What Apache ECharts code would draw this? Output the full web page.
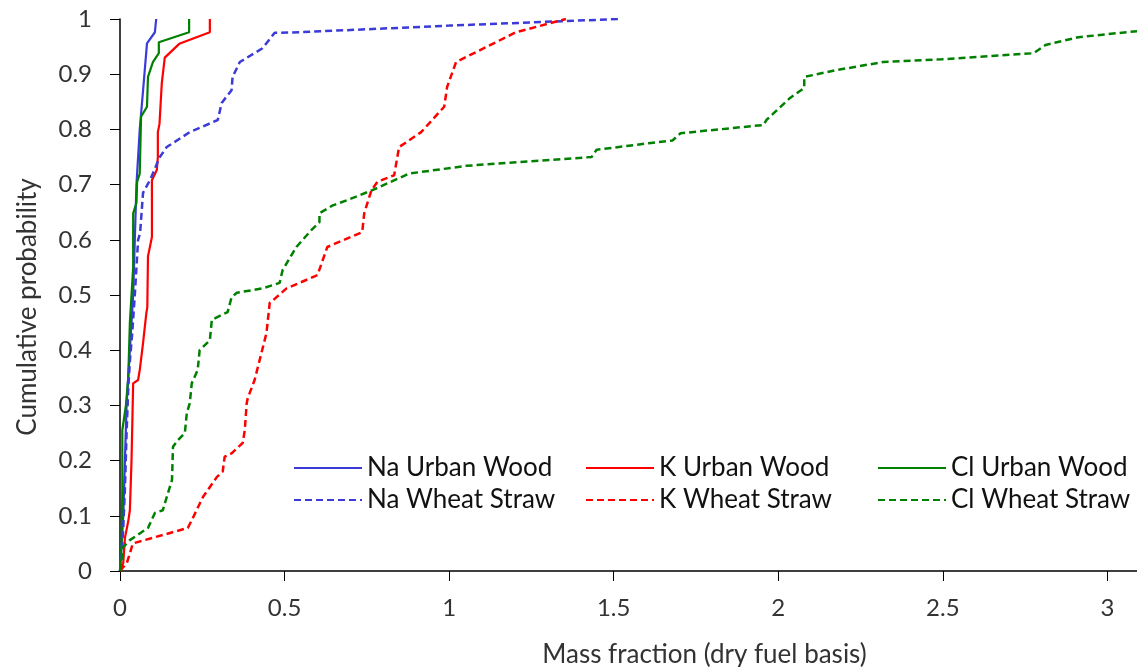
<!DOCTYPE html>
<html>
<head>
<meta charset="utf-8">
<script src="https://cdn.jsdelivr.net/npm/echarts@6/dist/echarts.min.js"></script>
<style>
  html, body { margin: 0; padding: 0; background: #fff; }
  #chart { width: 1137px; height: 667px; }
</style>
</head>
<body>
<div id="chart"></div>
<script>
// cumulative curves, [mass fraction, probability]
const naUrbanWood = [[0,0],[0.005,0.05],[0.01,0.1],[0.015,0.2],[0.02,0.3],[0.03,0.4],[0.04,0.5],[0.045,0.6],[0.05,0.7],[0.06,0.8],[0.07,0.87],[0.082,0.956],[0.106,0.976],[0.11,1.0]];
const kUrbanWood = [[0,0],[0.01,0.015],[0.015,0.06],[0.025,0.09],[0.03,0.11],[0.035,0.2],[0.04,0.34],[0.055,0.346],[0.06,0.364],[0.07,0.413],[0.08,0.467],[0.083,0.478],[0.085,0.57],[0.097,0.605],[0.097,0.708],[0.112,0.727],[0.115,0.75],[0.115,0.795],[0.12,0.81],[0.127,0.884],[0.136,0.93],[0.18,0.955],[0.273,0.976],[0.273,1.0]];
const clUrbanWood = [[0,0],[0.005,0.05],[0.007,0.15],[0.007,0.255],[0.018,0.3],[0.025,0.35],[0.03,0.45],[0.04,0.55],[0.04,0.648],[0.05,0.667],[0.052,0.705],[0.06,0.72],[0.064,0.823],[0.082,0.841],[0.085,0.895],[0.1,0.922],[0.118,0.938],[0.118,0.958],[0.21,0.976],[0.21,1.0]];
const naWheatStraw = [[0,0],[0.005,0.03],[0.01,0.08],[0.015,0.15],[0.02,0.25],[0.025,0.33],[0.03,0.38],[0.037,0.43],[0.045,0.5],[0.055,0.6],[0.061,0.612],[0.07,0.685],[0.091,0.708],[0.121,0.75],[0.142,0.768],[0.212,0.795],[0.297,0.817],[0.309,0.848],[0.339,0.871],[0.342,0.895],[0.364,0.922],[0.433,0.947],[0.47,0.975],[0.545,0.976],[1.0,0.988],[1.342,0.996],[1.52,1.0]];
const kWheatStraw = [[0,0],[0.021,0.015],[0.03,0.032],[0.039,0.05],[0.206,0.078],[0.218,0.092],[0.252,0.134],[0.294,0.17],[0.312,0.18],[0.318,0.207],[0.339,0.213],[0.373,0.232],[0.379,0.255],[0.385,0.304],[0.388,0.313],[0.409,0.346],[0.445,0.431],[0.455,0.486],[0.464,0.49],[0.506,0.512],[0.6,0.536],[0.63,0.587],[0.736,0.614],[0.742,0.648],[0.764,0.69],[0.782,0.705],[0.833,0.717],[0.848,0.768],[0.915,0.795],[0.985,0.841],[0.994,0.877],[1.021,0.922],[1.112,0.949],[1.203,0.976],[1.355,1.0]];
const clWheatStraw = [[0,0],[0.003,0.014],[0.009,0.043],[0.03,0.056],[0.085,0.078],[0.106,0.105],[0.13,0.11],[0.142,0.134],[0.158,0.165],[0.161,0.225],[0.176,0.237],[0.197,0.25],[0.203,0.286],[0.212,0.304],[0.218,0.34],[0.236,0.364],[0.242,0.4],[0.273,0.418],[0.279,0.455],[0.327,0.469],[0.339,0.496],[0.355,0.504],[0.433,0.512],[0.485,0.522],[0.494,0.545],[0.536,0.587],[0.582,0.618],[0.606,0.632],[0.606,0.648],[0.645,0.662],[0.691,0.672],[0.767,0.69],[0.879,0.72],[1.052,0.734],[1.433,0.75],[1.448,0.763],[1.606,0.775],[1.679,0.78],[1.703,0.793],[1.955,0.808],[1.964,0.817],[2.036,0.857],[2.079,0.875],[2.079,0.895],[2.173,0.907],[2.318,0.922],[2.497,0.927],[2.776,0.938],[2.812,0.953],[2.912,0.967],[3.09,0.978]];

const FONT = 'Lato, "Open Sans", sans-serif';
const BLUE = '#3b3bd8', RED = '#ff0000', GREEN = '#008000';

const chart = echarts.init(document.getElementById('chart'));

function line(name, data, color, dashed) {
  return {
    name: name,
    type: 'line',
    data: data,
    showSymbol: false,
    symbol: 'none',
    animation: false,
    lineStyle: { color: color, width: dashed ? 2.5 : 2.2, type: dashed ? [7, 4] : 'solid' },
    itemStyle: { color: color }
  };
}

const legendBase = {
  orient: 'vertical',
  top: 450,
  itemWidth: 68,
  itemHeight: 14,
  itemGap: 6,
  itemStyle: { opacity: 0 },
  textStyle: { fontFamily: FONT, fontSize: 26, color: '#111' }
};

chart.setOption({
  backgroundColor: '#fff',
  grid: { left: 120, top: 19, right: 0, bottom: 96, outerBoundsMode: 'none', containLabel: false },
  legend: [
    Object.assign({ left: 288, data: ['Na Urban Wood', 'Na Wheat Straw'] }, legendBase),
    Object.assign({ left: 580, data: ['K Urban Wood', 'K Wheat Straw'] }, legendBase),
    Object.assign({ left: 872, data: ['Cl Urban Wood', 'Cl Wheat Straw'] }, legendBase)
  ],
  xAxis: {
    type: 'value',
    min: 0,
    max: 3.09,
    interval: 0.5,
    name: 'Mass fraction (dry fuel basis)',
    nameLocation: 'middle',
    nameGap: 71,
    nameTextStyle: { fontFamily: FONT, fontSize: 26, color: '#333', padding: [0, 0, 0, 152] },
    axisLine: { lineStyle: { color: '#000', width: 1.5 } },
    axisTick: { show: true, inside: false, length: 10, lineStyle: { color: '#000' } },
    axisLabel: { showMaxLabel: false, margin: 25, fontFamily: FONT, fontSize: 24, color: '#333' },
    splitLine: { show: false }
  },
  yAxis: {
    type: 'value',
    min: 0,
    max: 1,
    interval: 0.1,
    name: 'Cumulative probability',
    nameLocation: 'middle',
    nameGap: 79,
    nameTextStyle: { fontFamily: FONT, fontSize: 26, color: '#333', padding: [0, 24, 0, 0] },
    axisLine: { show: true, lineStyle: { color: '#000', width: 1.5 } },
    axisTick: { show: true, inside: false, length: 10, lineStyle: { color: '#000' } },
    axisLabel: { margin: 28, fontFamily: FONT, fontSize: 24, color: '#333' },
    splitLine: { show: false }
  },
  series: [
    line('Na Urban Wood', naUrbanWood, BLUE, false),
    line('K Urban Wood', kUrbanWood, RED, false),
    line('Cl Urban Wood', clUrbanWood, GREEN, false),
    line('Na Wheat Straw', naWheatStraw, BLUE, true),
    line('K Wheat Straw', kWheatStraw, RED, true),
    line('Cl Wheat Straw', clWheatStraw, GREEN, true)
  ]
});
</script>
</body>
</html>
